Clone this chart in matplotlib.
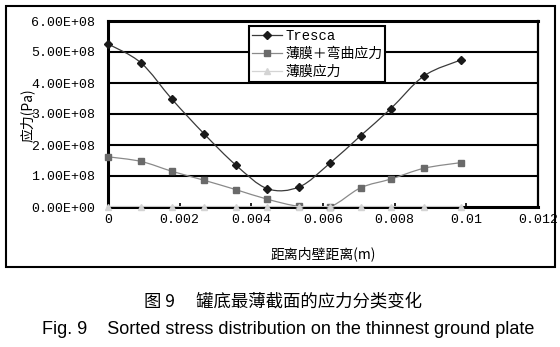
import matplotlib
matplotlib.use("Agg")
import matplotlib.pyplot as plt
from matplotlib.path import Path
from matplotlib.patches import PathPatch, Rectangle
from matplotlib.lines import Line2D
import numpy as np

# 数据
dist = [0, 0.00092, 0.00179, 0.00269, 0.00357, 0.00445,
        0.00534, 0.00619, 0.00705, 0.00789, 0.00882, 0.00984]
tresca = [5.26e8, 4.65e8, 3.47e8, 2.35e8, 1.35e8, 0.59e8,
          0.65e8, 1.41e8, 2.30e8, 3.17e8, 4.23e8, 4.74e8]
bending = [1.62e8, 1.47e8, 1.15e8, 0.86e8, 0.56e8, 0.25e8,
           0.02e8, 0.01e8, 0.62e8, 0.90e8, 1.25e8, 1.43e8]
membrane = [0.01e8, 0.01e8, 0.01e8, 0.01e8, 0.01e8, 0.01e8,
            0.01e8, 0.01e8, 0.01e8, 0.01e8, 0.01e8, 0.01e8]

series_names = ["Tresca", "薄膜＋弯曲应力", "薄膜应力"]
x_ticks = [0, 0.002, 0.004, 0.006, 0.008, 0.01, 0.012]
x_labels = ["0", "0.002", "0.004", "0.006", "0.008", "0.01", "0.012"]
y_ticks = [0, 1e8, 2e8, 3e8, 4e8, 5e8, 6e8]
y_labels = ["0.00E+00", "1.00E+08", "2.00E+08", "3.00E+08",
            "4.00E+08", "5.00E+08", "6.00E+08"]

CJK = ["Noto Sans CJK SC", "DejaVu Sans"]
MONO = ["Liberation Mono", "Noto Sans CJK SC"]


def smooth_path(xs, ys):
    # Excel 风格的平滑曲线 (Catmull-Rom -> Bezier)
    p = np.column_stack([xs, ys])
    n = len(p)
    verts = [p[0]]
    codes = [Path.MOVETO]
    for i in range(n - 1):
        p0 = p[i - 1] if i > 0 else p[i]
        p3 = p[i + 2] if i + 2 < n else p[i + 1]
        c1 = p[i] + (p[i + 1] - p0) / 6.0
        c2 = p[i + 1] - (p3 - p[i]) / 6.0
        verts += [c1, c2, p[i + 1]]
        codes += [Path.CURVE4] * 3
    return Path(verts, codes)


fig = plt.figure(figsize=(5.6, 3.47), dpi=100)
ax = fig.add_axes([108 / 560, 1 - 207 / 347, 430 / 560, 186 / 347])

# 外框
fig.patches.append(Rectangle((6 / 560, 1 - 267 / 347), 549 / 560, 261 / 347,
                             transform=fig.transFigure, fill=False,
                             edgecolor="black", linewidth=1.5))

ax.set_xlim(0, 0.012)
ax.set_ylim(0, 6e8)
for yv in y_ticks[1:]:
    ax.axhline(yv, color="black", linewidth=1.5, zorder=1)

styles = [
    (tresca, "#1a1a1a", "#3a3a3a", "D", 3.6),
    (bending, "#6a6a6a", "#8a8a8a", "s", 4.0),
    (membrane, "#d4d4d4", "#d4d4d4", "^", 5.0),
]
handles = []
for k, (vals, mc, lc, mk, ms) in enumerate(styles):
    ax.add_patch(PathPatch(smooth_path(dist, vals), fill=False,
                           edgecolor=lc, linewidth=0.9, zorder=3 + k))
    ax.plot(dist, vals, linestyle="none", marker=mk, markersize=ms,
            color=mc, clip_on=False, zorder=4 + k)
    handles.append(Line2D([], [], color=lc, linewidth=0.9, marker=mk,
                          markersize=ms, markerfacecolor=mc,
                          markeredgecolor=mc))

for s in ax.spines.values():
    s.set_linewidth(2.2)
    s.set_color("black")
ax.spines["right"].set_linewidth(1.6)

ax.set_xticks(x_ticks)
ax.set_xticklabels(x_labels, family=MONO, fontsize=9.5)
ax.set_yticks(y_ticks)
ax.set_yticklabels(y_labels, family=MONO, fontsize=9.5)
ax.tick_params(axis="x", direction="in", length=3, width=1.2, pad=5)
ax.tick_params(axis="y", length=0, pad=9)

ax.set_xlabel("距离内壁距离(m)", family=CJK, fontsize=10, va="center")
ax.xaxis.set_label_coords(0.5, -0.253)
ax.set_ylabel("应力(Pa)", family=CJK, fontsize=10, va="center")
ax.yaxis.set_label_coords(-0.188, 0.495)

leg = ax.legend(handles, series_names, loc="upper left",
                bbox_to_anchor=((249 - 108) / 430, (207 - 26) / 186),
                borderaxespad=0, borderpad=0.2, labelspacing=0.3,
                handlelength=2.2, handletextpad=0.2, fancybox=False,
                framealpha=1, edgecolor="black",
                prop={"family": MONO, "size": 10})
leg.get_frame().set_linewidth(1.5)
leg.set_zorder(10)

fig.text(283 / 560, 1 - 302 / 347, "图 9 　罐底最薄截面的应力分类变化",
         family=CJK, fontsize=12.5, ha="center", va="center")
fig.text(288 / 560, 1 - 330 / 347,
         "Fig. 9    Sorted stress distribution on the thinnest ground plate",
         family=["Liberation Sans"], fontsize=13, ha="center", va="center")

fig.savefig("out.png", dpi=100, facecolor="white")
